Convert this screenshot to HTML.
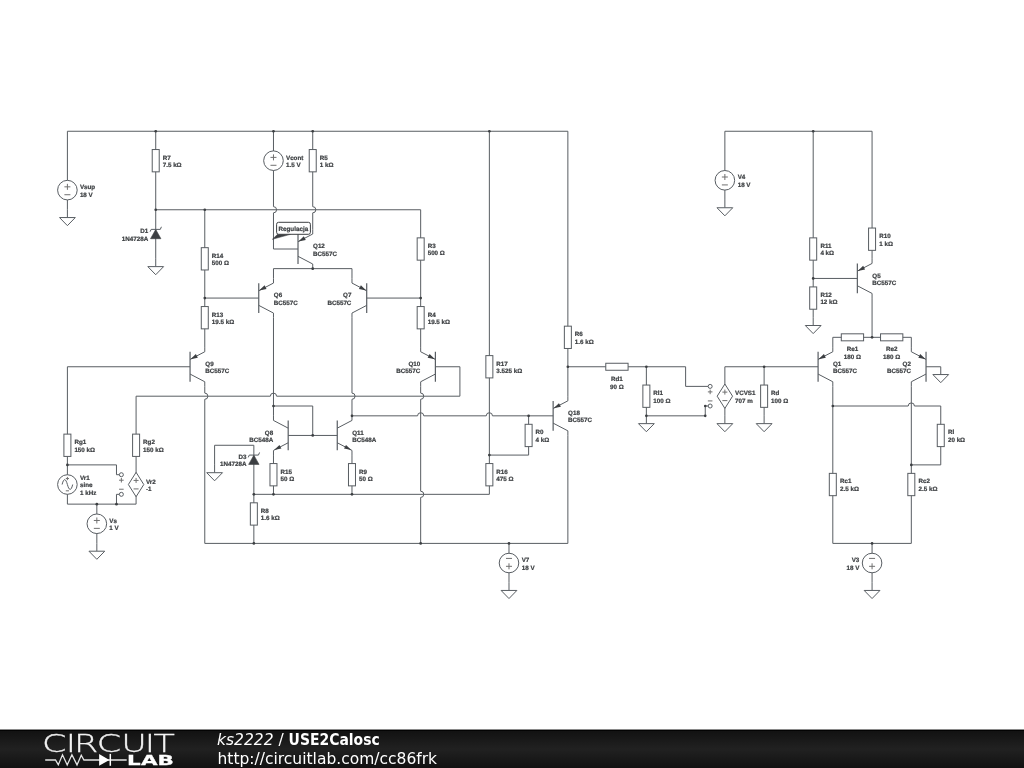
<!DOCTYPE html>
<html><head><meta charset="utf-8"><title>USE2Calosc</title>
<style>
html,body{margin:0;padding:0;background:#fff;}
body{width:1024px;height:768px;position:relative;overflow:hidden;font-family:"DejaVu Sans","Liberation Sans",sans-serif;}
#ft{position:absolute;left:0;top:729px;width:1024px;height:39px;background:linear-gradient(to bottom,#8a8a8a 0,#8a8a8a 1px,#030303 1px,#030303 2px,#121212 2px,#212121 20px,#111 39px);color:#fff;}
</style></head><body>
<svg width="1024" height="730" viewBox="0 0 1024 730" style="position:absolute;left:0;top:0;will-change:transform">
<g fill="none" stroke="#585d62" stroke-width="1.0" stroke-linejoin="miter">
<path d="M67.4 209.75 L67.4 131.25 L567.86 131.25 L567.86 396.2"/>
<path d="M155.72 131.25 L155.72 258.82"/>
<path d="M155.72 209.75 L420.67 209.75 L420.67 347.14"/>
<path d="M204.78 209.75 L204.78 347.14"/>
<path d="M273.47 131.25 L273.47 206.65 A3.1 3.1 0 0 1 273.47 212.85 L273.47 249.01"/>
<path d="M273.47 249.01 L298.01 249.01"/>
<path d="M312.73 131.25 L312.73 206.65 A3.1 3.1 0 0 1 312.73 212.85 L312.73 229.38"/>
<path d="M273.47 278.45 L273.47 268.63 L351.98 268.63 L351.98 278.45"/>
<path d="M204.78 298.07 L258.75 298.07"/>
<path d="M366.7 298.07 L420.67 298.07"/>
<path d="M273.47 317.7 L273.47 415.83"/>
<path d="M351.98 317.7 L351.98 393.1 A3.1 3.1 0 0 1 351.98 399.3 L351.98 415.83"/>
<path d="M190.06 366.76 L67.4 366.76 L67.4 504.14 L136.09 504.14 L136.09 396.2"/>
<path d="M204.78 386.39 L204.78 393.1 A3.1 3.1 0 0 1 204.78 399.3 L204.78 543.4"/>
<path d="M435.39 366.76 L459.92 366.76 L459.92 396.2"/>
<path d="M136.09 396.2 L270.37 396.2 A3.1 3.1 0 0 1 276.57 396.2 L459.92 396.2"/>
<path d="M420.67 386.39 L420.67 393.1 A3.1 3.1 0 0 1 420.67 399.3 L420.67 491.23 A3.1 3.1 0 0 1 420.67 497.43 L420.67 543.4"/>
<path d="M67.4 464.89 L116.47 464.89 L116.47 474.71 L119.41 474.71"/>
<path d="M119.41 494.33 L116.47 494.33 L116.47 504.14"/>
<path d="M96.84 504.14 L96.84 543.4"/>
<path d="M214.6 464.89 L214.6 445.27 L253.85 445.27 L253.85 543.4"/>
<path d="M253.85 494.33 L489.36 494.33"/>
<path d="M273.47 455.08 L273.47 494.33"/>
<path d="M351.98 455.08 L351.98 494.33"/>
<path d="M288.19 435.45 L337.26 435.45"/>
<path d="M273.47 406.01 L312.73 406.01 L312.73 435.45"/>
<path d="M351.98 415.83 L417.57 415.83 A3.1 3.1 0 0 1 423.77 415.83 L486.26 415.83 A3.1 3.1 0 0 1 492.46 415.83 L553.14 415.83"/>
<path d="M528.61 415.83 L528.61 455.08 L489.36 455.08"/>
<path d="M489.36 131.25 L489.36 494.33"/>
<path d="M567.86 435.45 L567.86 543.4 L204.78 543.4"/>
<path d="M508.99 543.4 L508.99 582.65"/>
<path d="M567.86 366.76 L685.62 366.76 L685.62 386.39 L708.19 386.39"/>
<path d="M646.37 366.76 L646.37 415.83"/>
<path d="M646.37 415.83 L705.25 415.83 L705.25 406.01 L708.19 406.01"/>
<path d="M724.87 415.83 L724.87 366.76 L818.09 366.76"/>
<path d="M764.12 366.76 L764.12 415.83"/>
<path d="M724.87 199.94 L724.87 131.25 L872.07 131.25 L872.07 258.82"/>
<path d="M813.19 131.25 L813.19 317.7"/>
<path d="M813.19 278.45 L857.35 278.45"/>
<path d="M872.07 298.07 L872.07 337.32"/>
<path d="M832.81 347.14 L832.81 337.32 L911.32 337.32 L911.32 347.14"/>
<path d="M926.04 366.76 L940.76 366.76"/>
<path d="M832.81 386.39 L832.81 543.4 L911.32 543.4 L911.32 386.39"/>
<path d="M832.81 406.01 L908.22 406.01 A3.1 3.1 0 0 1 914.42 406.01 L940.76 406.01"/>
<path d="M940.76 406.01 L940.76 464.89 L911.32 464.89"/>
<path d="M872.07 543.4 L872.07 582.65"/>
</g>
<g fill="#fff" stroke="#585d62" stroke-width="1.0">
<circle cx="67.4" cy="190.13" r="9.8"/>
<path d="M64.4 186.83 h6 M67.4 183.83 v6 M64.4 194.73 h6" stroke="#707070" stroke-width="1"/>
<path d="M67.4 209.75 v7.8" fill="none"/>
<path d="M59.5 217.55 h15.8 l-7.9 8.1Z"/>
<rect x="152.22" y="149.54" width="7.0" height="22.3"/>
<path d="M155.72 229.49 L160.92 238.69 L150.52 238.69Z" fill="#3c3f42" stroke="#3c3f42" stroke-width="0.6"/>
<path d="M150.12 231.69 L151.12 229.39 L160.32 229.39 L161.42 226.79" fill="none"/>
<path d="M155.72 258.82 v7.8" fill="none"/>
<path d="M147.82 266.62 h15.8 l-7.9 8.1Z"/>
<rect x="417.17" y="237.86" width="7.0" height="22.3"/>
<rect x="417.17" y="306.55" width="7.0" height="22.3"/>
<rect x="201.28" y="247.67" width="7.0" height="22.3"/>
<rect x="201.28" y="306.55" width="7.0" height="22.3"/>
<circle cx="273.47" cy="160.69" r="9.8"/>
<path d="M270.47 157.39 h6 M273.47 154.39 v6 M270.47 165.29 h6" stroke="#707070" stroke-width="1"/>
<rect x="309.23" y="149.54" width="7.0" height="22.3"/>
<path d="M298.01 234.11 V263.91" fill="none" stroke-width="1.2"/>
<path d="M298.01 241.71 L312.73 234.01 V229.38 M298.01 256.31 L312.73 264.01 V268.63" fill="none"/>
<path d="M298.41 241.51 L305.76 240.03 L303.82 236.31Z" fill="#3c3f42" stroke="none"/>
<path d="M258.75 283.17 V312.97" fill="none" stroke-width="1.2"/>
<path d="M258.75 290.77 L273.47 283.07 V278.45 M258.75 305.37 L273.47 313.07 V317.7" fill="none"/>
<path d="M259.15 290.57 L266.5 289.09 L264.56 285.37Z" fill="#3c3f42" stroke="none"/>
<path d="M366.7 283.17 V312.97" fill="none" stroke-width="1.2"/>
<path d="M366.7 290.77 L351.98 283.07 V278.45 M366.7 305.37 L351.98 313.07 V317.7" fill="none"/>
<path d="M366.3 290.57 L360.89 285.37 L358.95 289.09Z" fill="#3c3f42" stroke="none"/>
<path d="M190.06 351.86 V381.66" fill="none" stroke-width="1.2"/>
<path d="M190.06 359.46 L204.78 351.76 V347.14 M190.06 374.06 L204.78 381.76 V386.39" fill="none"/>
<path d="M190.46 359.26 L197.81 357.78 L195.87 354.06Z" fill="#3c3f42" stroke="none"/>
<path d="M435.39 351.86 V381.66" fill="none" stroke-width="1.2"/>
<path d="M435.39 359.46 L420.67 351.76 V347.14 M435.39 374.06 L420.67 381.76 V386.39" fill="none"/>
<path d="M434.99 359.26 L429.58 354.06 L427.64 357.78Z" fill="#3c3f42" stroke="none"/>
<rect x="63.9" y="434.12" width="7.0" height="22.3"/>
<circle cx="67.4" cy="484.52" r="9.8"/>
<path d="M62.1 484.52 C63.9 477.02 65.9 479.02 67.4 484.52 S70.9 492.02 72.7 484.52" />
<path d="M65.8 478.52 h3.2 M67.4 476.92 v3.2 M65.8 490.82 h3.2" stroke="#707070" stroke-width="1"/>
<circle cx="121.37" cy="474.71" r="2"/>
<circle cx="121.37" cy="494.33" r="2"/>
<path d="M119.07 480.21 h4.6 M121.37 477.91 v4.6 M119.07 489.23 h4.6" stroke="#707070" stroke-width="1"/>
<rect x="132.59" y="434.12" width="7.0" height="22.3"/>
<path d="M136.09 472.32 L143.79 484.52 L136.09 496.72 L128.39 484.52Z"/>
<path d="M133.59 480.42 h5 M136.09 477.92 v5 M133.59 488.92 h5" stroke="#707070" stroke-width="1"/>
<circle cx="96.84" cy="523.77" r="9.8"/>
<path d="M93.84 520.47 h6 M96.84 517.47 v6 M93.84 528.37 h6" stroke="#707070" stroke-width="1"/>
<path d="M96.84 543.4 v7.8" fill="none"/>
<path d="M88.94 551.2 h15.8 l-7.9 8.1Z"/>
<path d="M214.6 464.89 v7.8" fill="none"/>
<path d="M206.7 472.69 h15.8 l-7.9 8.1Z"/>
<path d="M253.85 455.19 L259.05 464.39 L248.65 464.39Z" fill="#3c3f42" stroke="#3c3f42" stroke-width="0.6"/>
<path d="M248.25 457.39 L249.25 455.09 L258.45 455.09 L259.55 452.49" fill="none"/>
<rect x="250.35" y="502.81" width="7.0" height="22.3"/>
<path d="M288.19 420.55 V450.35" fill="none" stroke-width="1.2"/>
<path d="M288.19 428.15 L273.47 420.45 V415.83 M288.19 442.75 L273.47 450.45 V455.08" fill="none"/>
<path d="M274.07 450.1 L281.42 448.62 L279.48 444.9Z" fill="#3c3f42" stroke="none"/>
<rect x="269.97" y="463.56" width="7.0" height="22.3"/>
<path d="M337.26 420.55 V450.35" fill="none" stroke-width="1.2"/>
<path d="M337.26 428.15 L351.98 420.45 V415.83 M337.26 442.75 L351.98 450.45 V455.08" fill="none"/>
<path d="M351.38 450.1 L345.97 444.9 L344.03 448.62Z" fill="#3c3f42" stroke="none"/>
<rect x="348.48" y="463.56" width="7.0" height="22.3"/>
<rect x="525.11" y="424.3" width="7.0" height="22.3"/>
<rect x="485.86" y="355.61" width="7.0" height="22.3"/>
<rect x="485.86" y="463.56" width="7.0" height="22.3"/>
<rect x="564.36" y="326.17" width="7.0" height="22.3"/>
<path d="M553.14 400.93 V430.73" fill="none" stroke-width="1.2"/>
<path d="M553.14 408.53 L567.86 400.83 V396.2 M553.14 423.13 L567.86 430.83 V435.45" fill="none"/>
<path d="M553.54 408.33 L560.89 406.85 L558.95 403.13Z" fill="#3c3f42" stroke="none"/>
<circle cx="508.99" cy="563.02" r="9.8"/>
<path d="M505.99 566.32 h6 M508.99 563.32 v6 M505.99 558.42 h6" stroke="#707070" stroke-width="1"/>
<path d="M508.99 582.65 v7.8" fill="none"/>
<path d="M501.09 590.45 h15.8 l-7.9 8.1Z"/>
<rect x="605.78" y="363.26" width="22.3" height="7.0"/>
<rect x="642.87" y="385.05" width="7.0" height="22.3"/>
<path d="M646.37 415.83 v7.8" fill="none"/>
<path d="M638.47 423.63 h15.8 l-7.9 8.1Z"/>
<circle cx="710.15" cy="386.39" r="2"/>
<circle cx="710.15" cy="406.01" r="2"/>
<path d="M707.85 391.89 h4.6 M710.15 389.59 v4.6 M707.85 400.91 h4.6" stroke="#707070" stroke-width="1"/>
<path d="M724.87 384 L732.57 396.2 L724.87 408.4 L717.17 396.2Z"/>
<path d="M722.37 392.1 h5 M724.87 389.6 v5 M722.37 400.6 h5" stroke="#707070" stroke-width="1"/>
<path d="M724.87 415.83 v7.8" fill="none"/>
<path d="M716.97 423.63 h15.8 l-7.9 8.1Z"/>
<rect x="760.62" y="385.05" width="7.0" height="22.3"/>
<path d="M764.12 415.83 v7.8" fill="none"/>
<path d="M756.22 423.63 h15.8 l-7.9 8.1Z"/>
<circle cx="724.87" cy="180.31" r="9.8"/>
<path d="M721.87 177.01 h6 M724.87 174.01 v6 M721.87 184.91 h6" stroke="#707070" stroke-width="1"/>
<path d="M724.87 199.94 v7.8" fill="none"/>
<path d="M716.97 207.74 h15.8 l-7.9 8.1Z"/>
<rect x="868.57" y="228.04" width="7.0" height="22.3"/>
<rect x="809.69" y="237.86" width="7.0" height="22.3"/>
<rect x="809.69" y="286.92" width="7.0" height="22.3"/>
<path d="M813.19 317.7 v7.8" fill="none"/>
<path d="M805.29 325.5 h15.8 l-7.9 8.1Z"/>
<path d="M857.35 263.55 V293.35" fill="none" stroke-width="1.2"/>
<path d="M857.35 271.15 L872.07 263.45 V258.82 M857.35 285.75 L872.07 293.45 V298.07" fill="none"/>
<path d="M857.75 270.95 L865.1 269.47 L863.16 265.75Z" fill="#3c3f42" stroke="none"/>
<path d="M818.09 351.86 V381.66" fill="none" stroke-width="1.2"/>
<path d="M818.09 359.46 L832.81 351.76 V347.14 M818.09 374.06 L832.81 381.76 V386.39" fill="none"/>
<path d="M818.49 359.26 L825.84 357.78 L823.9 354.06Z" fill="#3c3f42" stroke="none"/>
<rect x="841.29" y="333.82" width="22.3" height="7.0"/>
<rect x="880.54" y="333.82" width="22.3" height="7.0"/>
<path d="M926.04 351.86 V381.66" fill="none" stroke-width="1.2"/>
<path d="M926.04 359.46 L911.32 351.76 V347.14 M926.04 374.06 L911.32 381.76 V386.39" fill="none"/>
<path d="M925.64 359.26 L920.23 354.06 L918.29 357.78Z" fill="#3c3f42" stroke="none"/>
<path d="M940.76 366.76 v7.8" fill="none"/>
<path d="M932.86 374.56 h15.8 l-7.9 8.1Z"/>
<rect x="829.31" y="473.37" width="7.0" height="22.3"/>
<rect x="907.82" y="473.37" width="7.0" height="22.3"/>
<rect x="937.26" y="424.3" width="7.0" height="22.3"/>
<circle cx="872.07" cy="563.02" r="9.8"/>
<path d="M869.07 566.32 h6 M872.07 563.32 v6 M869.07 558.42 h6" stroke="#707070" stroke-width="1"/>
<path d="M872.07 582.65 v7.8" fill="none"/>
<path d="M864.17 590.45 h15.8 l-7.9 8.1Z"/>
</g>
<g fill="#3c3f42" stroke="none">
<circle cx="155.72" cy="131.25" r="1.35"/>
<circle cx="155.72" cy="209.75" r="1.35"/>
<circle cx="204.78" cy="209.75" r="1.35"/>
<circle cx="420.67" cy="298.07" r="1.35"/>
<circle cx="204.78" cy="298.07" r="1.35"/>
<circle cx="273.47" cy="131.25" r="1.35"/>
<circle cx="312.73" cy="131.25" r="1.35"/>
<circle cx="312.73" cy="268.63" r="1.35"/>
<circle cx="273.47" cy="406.01" r="1.35"/>
<circle cx="351.98" cy="415.83" r="1.35"/>
<circle cx="420.67" cy="543.4" r="1.35"/>
<circle cx="67.4" cy="464.89" r="1.35"/>
<circle cx="116.47" cy="504.14" r="1.35"/>
<circle cx="96.84" cy="504.14" r="1.35"/>
<circle cx="253.85" cy="494.33" r="1.35"/>
<circle cx="253.85" cy="543.4" r="1.35"/>
<circle cx="273.47" cy="494.33" r="1.35"/>
<circle cx="351.98" cy="494.33" r="1.35"/>
<circle cx="312.73" cy="435.45" r="1.35"/>
<circle cx="528.61" cy="415.83" r="1.35"/>
<circle cx="489.36" cy="455.08" r="1.35"/>
<circle cx="489.36" cy="131.25" r="1.35"/>
<circle cx="567.86" cy="366.76" r="1.35"/>
<circle cx="508.99" cy="543.4" r="1.35"/>
<circle cx="646.37" cy="366.76" r="1.35"/>
<circle cx="646.37" cy="415.83" r="1.35"/>
<circle cx="705.25" cy="415.83" r="1.3"/>
<circle cx="705.25" cy="406.01" r="1.3"/>
<circle cx="764.12" cy="366.76" r="1.35"/>
<circle cx="813.19" cy="131.25" r="1.35"/>
<circle cx="813.19" cy="278.45" r="1.35"/>
<circle cx="872.07" cy="337.32" r="1.35"/>
<circle cx="832.81" cy="406.01" r="1.35"/>
<circle cx="911.32" cy="464.89" r="1.35"/>
<circle cx="872.07" cy="543.4" r="1.35"/>
</g>
<g stroke="#3c3f42" stroke-width="0.22" fill="#3c3f42" font-family="'Liberation Sans', Arial, sans-serif" font-weight="bold" font-size="6.25" text-rendering="geometricPrecision">
<text x="79.9" y="188.99" text-anchor="start">Vsup</text>
<text x="79.9" y="196.54" text-anchor="start">18 V</text>
<text x="162.72" y="159.55" text-anchor="start">R7</text>
<text x="162.72" y="167.1" text-anchor="start">7.5 kΩ</text>
<text x="148.22" y="233.15" text-anchor="end">D1</text>
<text x="148.22" y="240.7" text-anchor="end">1N4728A</text>
<text x="427.67" y="247.87" text-anchor="start">R3</text>
<text x="427.67" y="255.42" text-anchor="start">500 Ω</text>
<text x="427.67" y="316.56" text-anchor="start">R4</text>
<text x="427.67" y="324.11" text-anchor="start">19.5 kΩ</text>
<text x="211.78" y="257.68" text-anchor="start">R14</text>
<text x="211.78" y="265.23" text-anchor="start">500 Ω</text>
<text x="211.78" y="316.56" text-anchor="start">R13</text>
<text x="211.78" y="324.11" text-anchor="start">19.5 kΩ</text>
<text x="285.97" y="159.55" text-anchor="start">Vcont</text>
<text x="285.97" y="167.1" text-anchor="start">1.5 V</text>
<text x="319.73" y="159.55" text-anchor="start">R5</text>
<text x="319.73" y="167.1" text-anchor="start">1 kΩ</text>
<text x="313.03" y="248.07" text-anchor="start">Q12</text>
<text x="313.03" y="255.62" text-anchor="start">BC557C</text>
<text x="273.77" y="297.13" text-anchor="start">Q6</text>
<text x="273.77" y="304.68" text-anchor="start">BC557C</text>
<text x="351.38" y="297.13" text-anchor="end">Q7</text>
<text x="351.38" y="304.68" text-anchor="end">BC557C</text>
<text x="205.28" y="365.82" text-anchor="start">Q9</text>
<text x="205.28" y="373.37" text-anchor="start">BC557C</text>
<text x="420.27" y="365.82" text-anchor="end">Q10</text>
<text x="420.27" y="373.37" text-anchor="end">BC557C</text>
<text x="74.4" y="444.13" text-anchor="start">Rg1</text>
<text x="74.4" y="451.68" text-anchor="start">150 kΩ</text>
<text x="80" y="479.6" text-anchor="start">Vr1</text>
<text x="80" y="487.15" text-anchor="start">sine</text>
<text x="80" y="494.7" text-anchor="start">1 kHz</text>
<text x="143.09" y="444.13" text-anchor="start">Rg2</text>
<text x="143.09" y="451.68" text-anchor="start">150 kΩ</text>
<text x="145.89" y="483.68" text-anchor="start">Vr2</text>
<text x="145.89" y="491.23" text-anchor="start">-1</text>
<text x="109.34" y="522.63" text-anchor="start">Vs</text>
<text x="109.34" y="530.18" text-anchor="start">1 V</text>
<text x="246.45" y="458.85" text-anchor="end">D3</text>
<text x="246.45" y="466.4" text-anchor="end">1N4728A</text>
<text x="260.85" y="512.82" text-anchor="start">R8</text>
<text x="260.85" y="520.37" text-anchor="start">1.6 kΩ</text>
<text x="273.17" y="434.51" text-anchor="end">Q8</text>
<text x="273.17" y="442.06" text-anchor="end">BC548A</text>
<text x="280.47" y="473.57" text-anchor="start">R15</text>
<text x="280.47" y="481.12" text-anchor="start">50 Ω</text>
<text x="352.18" y="434.51" text-anchor="start">Q11</text>
<text x="352.18" y="442.06" text-anchor="start">BC548A</text>
<text x="358.98" y="473.57" text-anchor="start">R9</text>
<text x="358.98" y="481.12" text-anchor="start">50 Ω</text>
<text x="535.61" y="434.31" text-anchor="start">R0</text>
<text x="535.61" y="441.86" text-anchor="start">4 kΩ</text>
<text x="496.36" y="365.62" text-anchor="start">R17</text>
<text x="496.36" y="373.17" text-anchor="start">3.525 kΩ</text>
<text x="496.36" y="473.57" text-anchor="start">R16</text>
<text x="496.36" y="481.12" text-anchor="start">475 Ω</text>
<text x="574.86" y="336.18" text-anchor="start">R6</text>
<text x="574.86" y="343.73" text-anchor="start">1.6 kΩ</text>
<text x="568.06" y="414.89" text-anchor="start">Q18</text>
<text x="568.06" y="422.44" text-anchor="start">BC557C</text>
<text x="521.69" y="562.08" text-anchor="start">V7</text>
<text x="521.69" y="569.63" text-anchor="start">18 V</text>
<text x="616.93" y="381.02" text-anchor="middle">Rd1</text>
<text x="616.93" y="388.57" text-anchor="middle">90 Ω</text>
<text x="653.37" y="395.06" text-anchor="start">Rl1</text>
<text x="653.37" y="402.61" text-anchor="start">100 Ω</text>
<text x="734.97" y="395.36" text-anchor="start">VCVS1</text>
<text x="734.97" y="402.91" text-anchor="start">707 m</text>
<text x="771.12" y="395.06" text-anchor="start">Rd</text>
<text x="771.12" y="402.61" text-anchor="start">100 Ω</text>
<text x="737.67" y="179.17" text-anchor="start">V4</text>
<text x="737.67" y="186.72" text-anchor="start">18 V</text>
<text x="879.27" y="238.05" text-anchor="start">R10</text>
<text x="879.27" y="245.6" text-anchor="start">1 kΩ</text>
<text x="820.39" y="247.87" text-anchor="start">R11</text>
<text x="820.39" y="255.42" text-anchor="start">4 kΩ</text>
<text x="820.39" y="296.93" text-anchor="start">R12</text>
<text x="820.39" y="304.48" text-anchor="start">12 kΩ</text>
<text x="872.27" y="277.51" text-anchor="start">Q5</text>
<text x="872.27" y="285.06" text-anchor="start">BC557C</text>
<text x="833.01" y="365.82" text-anchor="start">Q1</text>
<text x="833.01" y="373.37" text-anchor="start">BC557C</text>
<text x="852.44" y="351.38" text-anchor="middle">Re1</text>
<text x="852.44" y="358.93" text-anchor="middle">180 Ω</text>
<text x="891.69" y="351.38" text-anchor="middle">Re2</text>
<text x="891.69" y="358.93" text-anchor="middle">180 Ω</text>
<text x="910.92" y="365.82" text-anchor="end">Q2</text>
<text x="910.92" y="373.37" text-anchor="end">BC557C</text>
<text x="840.01" y="483.38" text-anchor="start">Rc1</text>
<text x="840.01" y="490.93" text-anchor="start">2.5 kΩ</text>
<text x="918.52" y="483.38" text-anchor="start">Rc2</text>
<text x="918.52" y="490.93" text-anchor="start">2.5 kΩ</text>
<text x="947.96" y="434.31" text-anchor="start">Rl</text>
<text x="947.96" y="441.86" text-anchor="start">20 kΩ</text>
<text x="859.37" y="562.08" text-anchor="end">V3</text>
<text x="859.37" y="569.63" text-anchor="end">18 V</text>
<path d="M272.4 239.3 L277.6 234.3 L290.6 234.3Z" fill="#3c3f42" stroke="#3c3f42" stroke-width="0.5"/>
<rect x="276.6" y="222.3" width="33.8" height="12" rx="2" ry="2" fill="#fff" stroke="#3c3f42" stroke-width="1"/>
<text x="293.3" y="230.5" text-anchor="middle" font-size="6.3">Regulacja</text>
</g>
</svg>
<div id="ft">
<svg width="1024" height="39" viewBox="0 0 1024 39" style="position:absolute;left:0;top:0;will-change:transform">
<text transform="scale(1.4 1)" x="30.09 47.02 52.95 69.16 86.67 103.48 109.58" y="22.5" font-family="'DejaVu Sans Light','DejaVu Sans',sans-serif" font-weight="200" font-size="25" fill="#f2f2f2" stroke="#f2f2f2" stroke-width="0.3">CIRCUIT</text>
<path d="M45.2 31 H55.5 L58.3 35.9 L62.5 25.75 L67.2 35.9 L71.9 25.75 L77 35.9 L81.25 26.3 L83.9 31 H126.7" fill="none" stroke="#e4e4e4" stroke-width="1.3"/>
<path d="M99.1 25.1 L109.4 31 L99.1 36.8Z" fill="#fff"/>
<path d="M110.3 24.9 V36.8" stroke="#fff" stroke-width="1.5"/>
<text transform="scale(1.5 1)" x="84.68 94.00 105.03" y="36.4" font-family="'DejaVu Sans',sans-serif" font-weight="bold" font-size="14.3" fill="#fff" stroke="#fff" stroke-width="0.3">LAB</text>
<text x="217" y="15.9" font-family="'DejaVu Sans',sans-serif" font-size="15.5" fill="#fff" xml:space="preserve"><tspan font-style="oblique">ks2222</tspan> / <tspan font-family="'DejaVu Sans Condensed','DejaVu Sans',sans-serif" font-stretch="condensed" font-weight="bold">USE2Calosc</tspan></text>
<text x="217.5" y="35.3" font-family="'DejaVu Sans',sans-serif" font-size="15.5" fill="#fff">http://circuitlab.com/cc86frk</text>
</svg>
</div>

</body></html>
